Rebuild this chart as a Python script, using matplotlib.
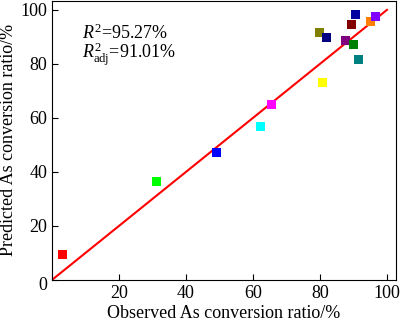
import matplotlib.pyplot as plt
import numpy as np

plt.rcParams['font.family'] = 'Liberation Serif'
plt.rcParams['mathtext.fontset'] = 'custom'
plt.rcParams['mathtext.rm'] = 'Liberation Serif'
plt.rcParams['mathtext.it'] = 'Liberation Serif:italic'

observed = np.array([3.1, 31.3, 49.2, 62.2, 65.5, 80.8, 79.8, 81.9, 90.5,
                     89.4, 87.5, 90.1, 91.5, 95.2, 96.5])
predicted = np.array([9.3, 36.4, 47.3, 56.7, 64.8, 73.0, 91.5, 89.6, 98.4,
                      94.7, 88.8, 87.3, 81.6, 95.7, 97.4])
colors = ['#ff0000', '#00ff00', '#0000ff', '#00ffff', '#ff00ff', '#ffff00',
          '#808000', '#000080', '#0000a0', '#800000', '#800080', '#008000',
          '#008080', '#ff8000', '#8000ff']
fit_line = [0, 100]
ticks = [0, 20, 40, 60, 80, 100]
tick_labels = ['', '20', '40', '60', '80', '100']

fig = plt.figure(figsize=(4, 3.21), dpi=100)
ax = fig.add_axes([0.13, 0.128, 0.86, 0.869])

ax.plot(fit_line, fit_line, '-', color='#ff0000', lw=1.5, zorder=2)
ax.scatter(observed, predicted, c=colors, marker='s', s=42, zorder=3,
           linewidths=0)

ax.set_xlim(0, 102.7)
ax.set_ylim(0, 103.3)
ax.set_xticks(ticks)
ax.set_yticks(ticks)
ax.set_xticklabels(tick_labels)
ax.set_yticklabels(tick_labels)
ax.tick_params(direction='in', length=4, labelsize=13, top=False, right=False)
# shared origin label
ax.text(-2.7, -2.2, '0', fontsize=13, ha='center', va='center')
ax.set_xlabel('Observed As conversion ratio/%', fontsize=13, labelpad=2)
ax.set_ylabel('Predicted As conversion ratio/%', fontsize=13, labelpad=2)

ax.text(9, 91.5, r'$\mathit{R}^2$=95.27%', fontsize=13, va='center')
ax.text(9, 83.5, r'$\mathit{R}^2_{\mathrm{adj}}$=91.01%', fontsize=13, va='center')

fig.savefig('out.png', dpi=100)
